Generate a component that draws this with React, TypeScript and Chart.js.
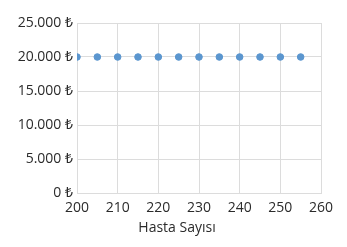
import React, { useEffect, useRef } from "react";
import { Chart, registerables } from "chart.js";

Chart.register(...registerables);

const patientCounts = [200, 205, 210, 215, 220, 225, 230, 235, 240, 245, 250, 255];
const costs = [20000, 20000, 20000, 20000, 20000, 20000, 20000, 20000, 20000, 20000, 20000, 20000];
const xTitle = "Hasta Sayısı";

const fmt = (v: number) => v.toLocaleString("de-DE") + " ₺";
const FONT = "Open Sans";
const TEXT = "#2b2b2b";

const xTitlePlugin = {
  id: "xTitlePlugin",
  afterDraw(chart: any) {
    const { ctx, chartArea } = chart;
    ctx.save();
    ctx.font = `14px "${FONT}"`;
    ctx.fillStyle = TEXT;
    ctx.textAlign = "center";
    ctx.textBaseline = "middle";
    const cx = (chartArea.left + chartArea.right) / 2 - 22;
    ctx.fillText(xTitle, cx, chartArea.bottom + 35);
    ctx.restore();
  },
};

export default function App() {
  const ref = useRef<HTMLCanvasElement | null>(null);
  useEffect(() => {
    document.body.style.margin = "0";
    const ctx = ref.current!;
    const chart = new Chart(ctx, {
      type: "scatter",
      data: {
        datasets: [
          {
            data: patientCounts.map((x, i) => ({ x, y: costs[i] })),
            backgroundColor: "#5b96cf",
            borderColor: "#5b96cf",
            pointRadius: 3.3,
            pointHoverRadius: 3.3,
          },
        ],
      },
      plugins: [xTitlePlugin],
      options: {
        animation: false,
        responsive: false,
        maintainAspectRatio: false,
        layout: { padding: { left: 0, right: 26, top: 23, bottom: 0 } },
        plugins: { legend: { display: false }, tooltip: { enabled: false } },
        scales: {
          x: {
            type: "linear",
            min: 200,
            max: 260,
            ticks: {
              stepSize: 10,
              color: TEXT,
              font: { family: FONT, size: 14 },
              padding: 7,
            },
            grid: { color: "#dcdcdc", drawTicks: false },
            border: { color: "#dcdcdc" },
            afterFit: (s: any) => {
              s.height = 247 - 193;
            },
          },
          y: {
            min: 0,
            max: 25000,
            ticks: {
              stepSize: 5000,
              color: TEXT,
              font: { family: FONT, size: 14 },
              padding: 4,
              callback: (v: any) => fmt(Number(v)),
            },
            grid: { color: "#dcdcdc", drawTicks: false },
            border: { color: "#dcdcdc" },
            afterFit: (s: any) => {
              s.width = 77;
            },
          },
        },
      },
    });
    return () => chart.destroy();
  }, []);
  return (
    <div style={{ position: "fixed", left: 0, top: 0, width: 347, height: 247 }}>
      <canvas ref={ref} width={347} height={247} style={{ width: 347, height: 247 }} />
    </div>
  );
}
